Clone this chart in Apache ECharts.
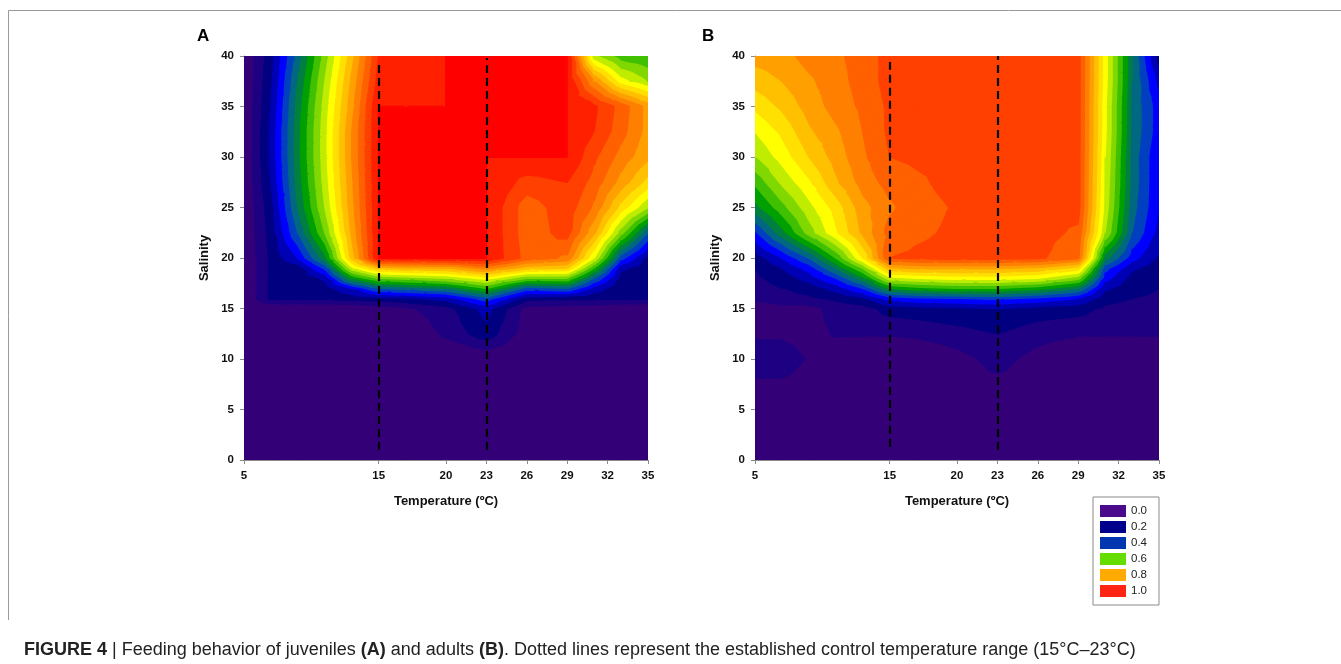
<!DOCTYPE html>
<html>
<head>
  <meta charset="utf-8" />
  <title>Feeding behavior contour maps</title>
  <script src="https://cdn.jsdelivr.net/npm/echarts@6/dist/echarts.min.js"></script>
  <style>
    html, body { margin: 0; padding: 0; background: #fff; }
    #chart { width: 1341px; height: 664px; }
  </style>
</head>
<body>
  <div id="chart"></div>
  <script>
    // sampling grid: temperature (x) and salinity (y)
    const TEMPS = [5, 7, 9, 11, 13, 15, 17, 20, 23, 26, 29, 31, 33, 35];
    const SALINITY = [0, 5, 10, 12.5, 15, 16, 17, 18, 19, 20, 22.5, 25, 27.5, 30, 32.5, 35, 37.5, 40];

    // feeding response, one row per salinity (bottom to top), one column per temperature
    const JUVENILES = [
      [0, 0, 0, 0, 0, 0, 0, 0, 0, 0, 0, 0, 0, 0],
      [0, 0, 0, 0, 0, 0, 0, 0, 0, 0, 0, 0, 0, 0],
      [0, 0, 0, 0, 0, 0, 0, 0, 0, 0, 0, 0, 0, 0],
      [0, 0, 0, 0, 0, 0, 0, 0.06, 0.13, 0.02, 0, 0, 0, 0],
      [0, 0, 0, 0, 0, 0.02, 0.04, 0.08, 0.17, 0.03, 0.02, 0.02, 0, 0],
      [0, 0.11, 0.11, 0.11, 0.12, 0.13, 0.14, 0.17, 0.28, 0.12, 0.11, 0.11, 0.11, 0.11],
      [0, 0.11, 0.11, 0.12, 0.2, 0.3, 0.32, 0.35, 0.45, 0.28, 0.3, 0.18, 0.11, 0.11],
      [0, 0.11, 0.11, 0.16, 0.4, 0.5, 0.52, 0.55, 0.62, 0.5, 0.5, 0.3, 0.13, 0.11],
      [0, 0.11, 0.12, 0.26, 0.58, 0.72, 0.74, 0.75, 0.82, 0.72, 0.7, 0.45, 0.16, 0.12],
      [0, 0.11, 0.2, 0.38, 0.72, 1, 1, 1, 1, 0.88, 0.84, 0.6, 0.27, 0.13],
      [0, 0.12, 0.3, 0.5, 0.76, 1, 1, 1, 1, 0.87, 0.92, 0.76, 0.52, 0.3],
      [0, 0.13, 0.35, 0.55, 0.78, 1, 1, 1, 1, 0.87, 0.93, 0.84, 0.68, 0.55],
      [0, 0.15, 0.37, 0.57, 0.79, 1, 1, 1, 1, 0.93, 0.95, 0.88, 0.78, 0.68],
      [0, 0.16, 0.38, 0.58, 0.8, 1, 1, 1, 1, 1, 1, 0.91, 0.83, 0.76],
      [0, 0.16, 0.38, 0.58, 0.8, 1, 1, 1, 1, 1, 1, 0.95, 0.87, 0.78],
      [0, 0.15, 0.37, 0.57, 0.78, 1, 1, 1, 1, 1, 1, 0.96, 0.88, 0.78],
      [0, 0.14, 0.35, 0.55, 0.76, 0.97, 0.98, 1, 1, 1, 1, 0.8, 0.62, 0.55],
      [0, 0.13, 0.32, 0.52, 0.73, 0.95, 0.97, 1, 1, 1, 1, 0.56, 0.47, 0.45]
    ];
    const ADULTS = [
      [0, 0, 0, 0, 0, 0, 0, 0, 0, 0, 0, 0, 0, 0],
      [0, 0, 0, 0, 0, 0, 0, 0, 0, 0, 0, 0, 0, 0],
      [0.08, 0.08, 0.045, 0.02, 0, 0, 0, 0.03, 0.07, 0.03, 0, 0, 0, 0],
      [0.04, 0.04, 0.03, 0.055, 0.055, 0.055, 0.06, 0.08, 0.1, 0.07, 0.055, 0.055, 0.055, 0.055],
      [0.02, 0.03, 0.03, 0.07, 0.08, 0.12, 0.13, 0.14, 0.15, 0.13, 0.12, 0.09, 0.08, 0.07],
      [0.06, 0.08, 0.09, 0.11, 0.14, 0.22, 0.24, 0.25, 0.26, 0.24, 0.2, 0.12, 0.1, 0.09],
      [0.08, 0.1, 0.12, 0.17, 0.25, 0.4, 0.43, 0.45, 0.45, 0.42, 0.35, 0.16, 0.12, 0.1],
      [0.09, 0.12, 0.17, 0.25, 0.38, 0.58, 0.6, 0.62, 0.62, 0.6, 0.52, 0.22, 0.13, 0.11],
      [0.1, 0.15, 0.22, 0.35, 0.5, 0.74, 0.76, 0.76, 0.76, 0.74, 0.68, 0.27, 0.16, 0.12],
      [0.12, 0.2, 0.3, 0.45, 0.65, 0.9, 0.91, 0.92, 0.92, 0.91, 0.86, 0.37, 0.22, 0.14],
      [0.24, 0.38, 0.52, 0.64, 0.76, 0.87, 0.89, 0.91, 0.92, 0.92, 0.89, 0.55, 0.3, 0.18],
      [0.38, 0.48, 0.58, 0.67, 0.78, 0.84, 0.88, 0.905, 0.92, 0.92, 0.92, 0.58, 0.32, 0.2],
      [0.46, 0.56, 0.64, 0.74, 0.82, 0.87, 0.89, 0.92, 0.92, 0.92, 0.92, 0.59, 0.33, 0.2],
      [0.55, 0.62, 0.7, 0.77, 0.84, 0.9, 0.91, 0.92, 0.92, 0.92, 0.92, 0.6, 0.33, 0.2],
      [0.6, 0.66, 0.74, 0.79, 0.85, 0.91, 0.92, 0.92, 0.92, 0.92, 0.92, 0.61, 0.34, 0.22],
      [0.66, 0.71, 0.77, 0.82, 0.86, 0.91, 0.92, 0.92, 0.92, 0.92, 0.92, 0.61, 0.34, 0.22],
      [0.72, 0.75, 0.79, 0.83, 0.87, 0.92, 0.92, 0.92, 0.92, 0.92, 0.92, 0.62, 0.35, 0.18],
      [0.77, 0.78, 0.82, 0.84, 0.87, 0.92, 0.92, 0.92, 0.92, 0.92, 0.92, 0.62, 0.35, 0.12]
    ];

    const X_TICKS = [5, 15, 20, 23, 26, 29, 32, 35];
    // control temperature range, dashed lines [temperature, salinity from, salinity to]
    const CONTROL_A = [[15, 1, 39.2], [23, 1, 39.8]];
    const CONTROL_B = [[15, 1.3, 39.4], [23, 1, 40]];

    // contour levels (0.05 steps) and the fill of each band
    const STEPS = [0.05, 0.1, 0.15, 0.2, 0.25, 0.3, 0.35, 0.4, 0.45, 0.5,
                   0.55, 0.6, 0.65, 0.7, 0.75, 0.8, 0.85, 0.9, 0.95, 1.0];
    const BAND_COLORS = [
      '#340078', '#1e0082', '#000080', '#0000b4', '#0000ff', '#0040c0', '#006880',
      '#008040', '#00a000', '#40c000', '#80d800', '#c0ec00', '#ffff00', '#ffe000',
      '#ffc000', '#ffa000', '#ff8000', '#ff6000', '#ff4000', '#ff2000', '#ff0000'
    ];
    const LEGEND_LABELS = ['0.0', '0.2', '0.4', '0.6', '0.8', '1.0'];
    const LEGEND_COLORS = ['#4b0a8c', '#00008c', '#0036b0', '#66dd00', '#ffaa00', '#ff2414'];

    const FONT = "'Liberation Sans', Arial, sans-serif";

    // one item per grid cell: corners + the four values
    function buildCells(values) {
      const cells = [];
      for (let j = 0; j < SALINITY.length - 1; j++) {
        for (let i = 0; i < TEMPS.length - 1; i++) {
          cells.push([TEMPS[i], SALINITY[j], TEMPS[i + 1], SALINITY[j + 1],
            values[j][i], values[j][i + 1], values[j + 1][i], values[j + 1][i + 1]]);
        }
      }
      return cells;
    }

    // clip polygon [x, y, v] against a level of the linear field
    function clipLevel(pts, level, keepAbove) {
      const out = [];
      for (let k = 0; k < pts.length; k++) {
        const a = pts[k], b = pts[(k + 1) % pts.length];
        const ina = keepAbove ? a[2] >= level : a[2] < level;
        const inb = keepAbove ? b[2] >= level : b[2] < level;
        if (ina) out.push(a);
        if (ina !== inb) {
          const t = (level - a[2]) / (b[2] - a[2]);
          out.push([a[0] + t * (b[0] - a[0]), a[1] + t * (b[1] - a[1]), level]);
        }
      }
      return out;
    }

    function renderCell(params, api) {
      const t0 = api.value(0), s0 = api.value(1), t1 = api.value(2), s1 = api.value(3);
      const p00 = api.coord([t0, s0]), p10 = api.coord([t1, s0]);
      const p01 = api.coord([t0, s1]), p11 = api.coord([t1, s1]);
      const c = [
        [p00[0], p00[1], api.value(4)],
        [p10[0], p10[1], api.value(5)],
        [p11[0], p11[1], api.value(7)],
        [p01[0], p01[1], api.value(6)]
      ];
      const mid = [(p00[0] + p11[0]) / 2, (p00[1] + p11[1]) / 2,
        (c[0][2] + c[1][2] + c[2][2] + c[3][2]) / 4];
      const children = [];
      for (let k = 0; k < 4; k++) {
        const tri = [c[k], c[(k + 1) % 4], mid];
        const vmin = Math.min(tri[0][2], tri[1][2], tri[2][2]);
        const vmax = Math.max(tri[0][2], tri[1][2], tri[2][2]);
        for (let b = 0; b < BAND_COLORS.length; b++) {
          const lo = b === 0 ? -Infinity : STEPS[b - 1];
          const hi = b === STEPS.length ? Infinity : STEPS[b];
          if (vmax < lo || vmin >= hi) continue;
          let poly = tri;
          if (lo > -Infinity) poly = clipLevel(poly, lo, true);
          if (poly.length >= 3 && hi < Infinity) poly = clipLevel(poly, hi, false);
          if (poly.length < 3) continue;
          // same-colour stroke hides the hairline seams between pieces
          children.push({
            type: 'polygon',
            shape: { points: poly.map(p => [p[0], p[1]]) },
            style: { fill: BAND_COLORS[b], stroke: BAND_COLORS[b], lineWidth: 1.4, lineJoin: 'round' }
          });
        }
      }
      return { type: 'group', children: children };
    }

    function controlLines(list) {
      return list.map(d => [{ coord: [d[0], d[1]] }, { coord: [d[0], d[2]] }]);
    }

    function contourSeries(name, values, idx, control) {
      return {
        name: name,
        type: 'custom',
        xAxisIndex: idx,
        yAxisIndex: idx,
        clip: true,
        silent: true,
        encode: { x: [0, 2], y: [1, 3] },
        renderItem: renderCell,
        data: buildCells(values),
        markLine: {
          silent: true,
          symbol: ['none', 'none'],
          label: { show: false },
          lineStyle: { color: '#000', width: 2.2, type: [8, 5] },
          data: controlLines(control)
        }
      };
    }

    function xAxisFor(idx) {
      return {
        gridIndex: idx,
        type: 'value',
        min: 5,
        max: 35,
        name: 'Temperature (ºC)',
        nameLocation: 'middle',
        nameGap: 35,
        nameTextStyle: { fontFamily: FONT, fontWeight: 'bold', fontSize: 13, color: '#111' },
        axisLine: { show: true, lineStyle: { color: '#8a8a8a', width: 1 } },
        axisTick: { show: true, length: 4, customValues: X_TICKS, lineStyle: { color: '#8a8a8a' } },
        axisLabel: { customValues: X_TICKS, margin: 10, fontFamily: FONT, fontWeight: 'bold', fontSize: 11.5, color: '#111' },
        splitLine: { show: false }
      };
    }

    function yAxisFor(idx) {
      return {
        gridIndex: idx,
        type: 'value',
        min: 0,
        max: 40,
        interval: 5,
        name: 'Salinity',
        nameLocation: 'middle',
        nameGap: 33,
        nameTextStyle: { fontFamily: FONT, fontWeight: 'bold', fontSize: 13, color: '#111' },
        axisLine: { show: true, lineStyle: { color: '#8a8a8a', width: 1 } },
        axisTick: { show: true, length: 4, lineStyle: { color: '#8a8a8a' } },
        axisLabel: { margin: 10, fontFamily: FONT, fontWeight: 'bold', fontSize: 11.5, color: '#111' },
        splitLine: { show: false }
      };
    }

    // legend entries: empty series that only carry a name and colour
    const legendSeries = LEGEND_LABELS.map((label, i) => ({
      name: label,
      type: 'scatter',
      xAxisIndex: 1,
      yAxisIndex: 1,
      data: [],
      itemStyle: { color: LEGEND_COLORS[i], opacity: 1 }
    }));

    const chart = echarts.init(document.getElementById('chart'));
    chart.setOption({
      backgroundColor: '#fff',
      animation: false,
      title: [
        { text: 'A', left: 197, top: 28, padding: 0,
          textStyle: { fontFamily: FONT, fontWeight: 'bold', fontSize: 17, color: '#000' } },
        { text: 'B', left: 702, top: 28, padding: 0,
          textStyle: { fontFamily: FONT, fontWeight: 'bold', fontSize: 17, color: '#000' } },
        {
          text: '{b|FIGURE 4} | Feeding behavior of juveniles {b|(A)} and adults {b|(B)}. Dotted lines represent the established control temperature range (15°C–23°C)',
          left: 24, top: 641, padding: 0,
          textStyle: {
            fontFamily: FONT, fontWeight: 'normal', fontSize: 18, color: '#222',
            rich: { b: { fontFamily: FONT, fontWeight: 'bold', fontSize: 18, color: '#222' } }
          }
        }
      ],
      legend: {
        data: LEGEND_LABELS,
        orient: 'vertical',
        left: 1093,
        top: 497,
        padding: [8, 12, 8, 7],
        itemWidth: 26,
        itemHeight: 12,
        itemGap: 4,
        icon: 'rect',
        selectedMode: false,
        borderColor: '#8a8a8a',
        borderWidth: 1,
        textStyle: { fontFamily: FONT, fontSize: 11.5, color: '#222' }
      },
      grid: [
        { left: 244, top: 56, width: 404, height: 404 },
        { left: 755, top: 56, width: 404, height: 404 }
      ],
      xAxis: [xAxisFor(0), xAxisFor(1)],
      yAxis: [yAxisFor(0), yAxisFor(1)],
      graphic: [
        { type: 'polyline', silent: true,
          shape: { points: [[1345, 10.5], [8.5, 10.5], [8.5, 620]] },
          style: { stroke: '#9a9a9a', lineWidth: 1, fill: null } }
      ],
      series: [
        contourSeries('Juveniles', JUVENILES, 0, CONTROL_A),
        contourSeries('Adults', ADULTS, 1, CONTROL_B)
      ].concat(legendSeries)
    });
  </script>
</body>
</html>
